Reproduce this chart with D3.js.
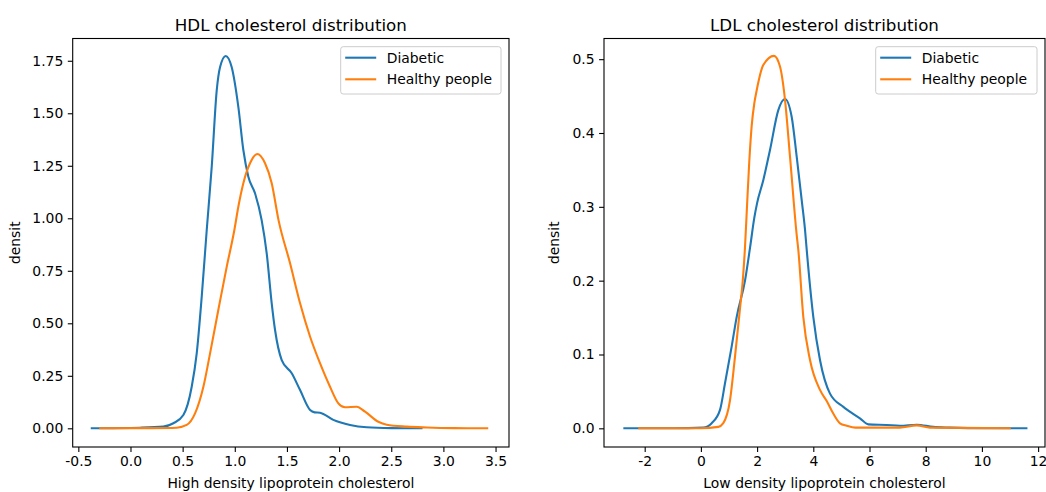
<!DOCTYPE html>
<html>
<head>
<meta charset="utf-8">
<script src="https://cdn.jsdelivr.net/npm/d3@7"></script>
<style>
    body { margin: 0; background: white; }
    text { font-family: "DejaVu Sans", sans-serif; fill: #000; }
</style>
</head>
<body>
<div id="chart"></div>
<script>
// series: [value, density]
let hdlDiabetic = [[-0.381, 0], [0.09, 0.003], [0.315, 0.008], [0.411, 0.024], [0.507, 0.063], [0.587, 0.198], [0.635, 0.357],
    [0.683, 0.627], [0.731, 0.944], [0.779, 1.246], [0.827, 1.61], [0.859, 1.72], [0.913, 1.773], [0.97, 1.72], [1.034, 1.53],
    [1.082, 1.325], [1.13, 1.198], [1.194, 1.119], [1.258, 0.99], [1.306, 0.833], [1.354, 0.595], [1.386, 0.468], [1.45, 0.325],
    [1.546, 0.262], [1.626, 0.182], [1.722, 0.087], [1.765, 0.076], [1.817, 0.074], [1.945, 0.04], [2.105, 0.016],
    [2.265, 0.005], [2.5, 0.001], [2.8, 0]];
let hdlHealthy = [[-0.30, 0], [0.2, 0.001], [0.443, 0.003], [0.539, 0.016], [0.619, 0.071], [0.699, 0.198], [0.763, 0.357],
    [0.842, 0.563], [0.923, 0.77], [0.996, 0.944], [1.034, 1.055], [1.082, 1.167], [1.146, 1.262], [1.216, 1.306], [1.29, 1.262],
    [1.354, 1.167], [1.42, 0.99], [1.53, 0.786], [1.626, 0.595], [1.722, 0.436], [1.817, 0.31], [1.913, 0.198], [1.993, 0.119],
    [2.057, 0.1], [2.169, 0.103], [2.249, 0.079], [2.376, 0.031], [2.457, 0.017], [2.649, 0.008], [2.84, 0.004], [3.1, 0.001],
    [3.43, 0]];
let ldlDiabetic = [[-2.76, 0], [-1, 0], [0.085, 0.001], [0.384, 0.007], [0.68, 0.025], [0.858, 0.061], [1.096, 0.111],
    [1.274, 0.151], [1.57, 0.2], [1.75, 0.245], [1.9, 0.285], [2.0, 0.305], [2.22, 0.336], [2.459, 0.377], [2.755, 0.431],
    [2.993, 0.446], [3.23, 0.422], [3.409, 0.368], [3.587, 0.309], [3.705, 0.269], [3.765, 0.242], [4.0, 0.151],
    [4.238, 0.0925], [4.594, 0.047], [5.07, 0.029], [5.246, 0.024], [5.66, 0.0136], [5.958, 0.0054], [6.61, 0.0045],
    [7.086, 0.0035], [7.68, 0.0049], [8.27, 0.002], [8.86, 0.001], [10, 0], [11.62, 0]];
let ldlHealthy = [[-2.23, 0], [0, 0], [0.62, 0.002], [0.797, 0.007], [1.036, 0.038], [1.214, 0.097], [1.391, 0.162],
    [1.5, 0.205], [1.569, 0.245], [1.64, 0.3], [1.72, 0.36], [1.808, 0.41], [1.9, 0.44], [1.986, 0.458], [2.22, 0.492],
    [2.6, 0.5045], [2.815, 0.49], [2.993, 0.445], [3.171, 0.368], [3.409, 0.262], [3.466, 0.242], [3.644, 0.151],
    [3.883, 0.0925], [4.238, 0.052], [4.477, 0.037], [4.71, 0.02], [4.95, 0.0068], [5.19, 0.0035], [5.5, 0.001],
    [7.08, 0.001], [7.68, 0.004], [8.15, 0.001], [11.03, 0]];

let seriesNames = ["Diabetic", "Healthy people"];
let hdlXTicks = [-0.5, 0.0, 0.5, 1.0, 1.5, 2.0, 2.5, 3.0, 3.5];
let hdlYTicks = [0.0, 0.25, 0.5, 0.75, 1.0, 1.25, 1.5, 1.75];
let ldlXTicks = [-2, 0, 2, 4, 6, 8, 10, 12];
let ldlYTicks = [0.0, 0.1, 0.2, 0.3, 0.4, 0.5];

const BLUE = "#1f77b4", ORANGE = "#ff7f0e";
const W = 1046, H = 492, FS = 13.9;

let svg = d3.select("#chart").append("svg")
    .attr("width", W)
    .attr("height", H);

svg.append("rect").attr("width", W).attr("height", H).style("fill", "white");

// plain hyphen for negatives, like the old matplotlib output
function Fmt(spec) {
    let f = d3.format(spec);
    return d => f(d).replace("\u2212", "-");
}

function DrawPanel(cfg) {
    let x = d3.scaleLinear().domain(cfg.xDomain).range([cfg.left, cfg.right]);
    let y = d3.scaleLinear().domain(cfg.yDomain).range([cfg.bottom, cfg.top]);
    let g = svg.append("g");

    let line = d3.line()
        .x(d => x(d[0]))
        .y(d => y(d[1]))
        .curve(d3.curveMonotoneX);

    let clip = "clip" + cfg.id;
    g.append("clipPath").attr("id", clip).append("rect")
        .attr("x", cfg.left).attr("y", cfg.top)
        .attr("width", cfg.right - cfg.left).attr("height", cfg.bottom - cfg.top);

    let colors = [BLUE, ORANGE];
    cfg.series.forEach((s, i) => {
        g.append("path")
            .datum(s)
            .attr("clip-path", "url(#" + clip + ")")
            .attr("d", line)
            .style("fill", "none")
            .style("stroke", colors[i])
            .style("stroke-width", 2.1)
            .style("stroke-linejoin", "round");
    });

    // axes
    let xAxis = g.append("g").attr("transform", "translate(0," + cfg.bottom + ")")
        .call(d3.axisBottom(x).tickValues(cfg.xTicks).tickFormat(cfg.xFormat).tickSize(4.9).tickPadding(4.5));
    let yAxis = g.append("g").attr("transform", "translate(" + cfg.left + ",0)")
        .call(d3.axisLeft(y).tickValues(cfg.yTicks).tickFormat(cfg.yFormat).tickSize(4.9).tickPadding(4.5));
    [xAxis, yAxis].forEach(a => {
        a.select(".domain").remove();
        a.selectAll("line").style("stroke", "#000").style("stroke-width", 1.1);
        a.selectAll("text").attr("font-size", FS).style("font-family", "'DejaVu Sans', sans-serif").style("fill", "#000");
    });

    // frame
    g.append("rect")
        .attr("x", cfg.left).attr("y", cfg.top)
        .attr("width", cfg.right - cfg.left).attr("height", cfg.bottom - cfg.top)
        .style("fill", "none").style("stroke", "#000").style("stroke-width", 1.1);

    // title and labels
    g.append("text")
        .attr("x", (cfg.left + cfg.right) / 2).attr("y", 30.5)
        .attr("text-anchor", "middle").attr("font-size", 16.7)
        .text(cfg.title);
    g.append("text")
        .attr("x", (cfg.left + cfg.right) / 2).attr("y", 488)
        .attr("text-anchor", "middle").attr("font-size", FS)
        .text(cfg.xLabel);
    g.append("text")
        .attr("transform", "translate(" + cfg.yLabelX + "," + ((cfg.top + cfg.bottom) / 2) + ") rotate(-90)")
        .attr("text-anchor", "middle").attr("font-size", FS)
        .text("densit");

    // legend
    let lx = cfg.right - cfg.legendW - 8, ly = 46.7;
    let lg = g.append("g").attr("transform", "translate(" + lx + "," + ly + ")");
    lg.append("rect")
        .attr("width", cfg.legendW).attr("height", 47.3).attr("rx", 2.5)
        .style("fill", "white").style("fill-opacity", 0.8)
        .style("stroke", "#cccccc").style("stroke-width", 1);
    seriesNames.forEach((n, i) => {
        let row = lg.append("g").attr("transform", "translate(0," + (11 + 21.6 * i) + ")");
        row.append("line").attr("x1", 4.5).attr("x2", 35.5).attr("y1", 0).attr("y2", 0)
            .style("stroke", colors[i]).style("stroke-width", 2.1);
        row.append("text").attr("x", 46).attr("y", 0).attr("dy", "0.36em")
            .attr("font-size", FS).text(n);
    });
}

DrawPanel({
    id: 0, left: 72.7, right: 509, top: 38.5, bottom: 447,
    xDomain: [-0.554, 3.629], yDomain: [-0.089, 1.856],
    xTicks: hdlXTicks, yTicks: hdlYTicks,
    xFormat: Fmt(".1f"), yFormat: Fmt(".2f"),
    series: [hdlDiabetic, hdlHealthy],
    title: "HDL cholesterol distribution",
    xLabel: "High density lipoprotein cholesterol",
    yLabelX: 20, legendW: 160.3
});

DrawPanel({
    id: 1, left: 604, right: 1045, top: 38.5, bottom: 447,
    xDomain: [-3.448, 12.245], yDomain: [-0.0253, 0.528],
    xTicks: ldlXTicks, yTicks: ldlYTicks,
    xFormat: Fmt("d"), yFormat: Fmt(".1f"),
    series: [ldlDiabetic, ldlHealthy],
    title: "LDL cholesterol distribution",
    xLabel: "Low density lipoprotein cholesterol",
    yLabelX: 559, legendW: 161.3
});
</script>
</body>
</html>
